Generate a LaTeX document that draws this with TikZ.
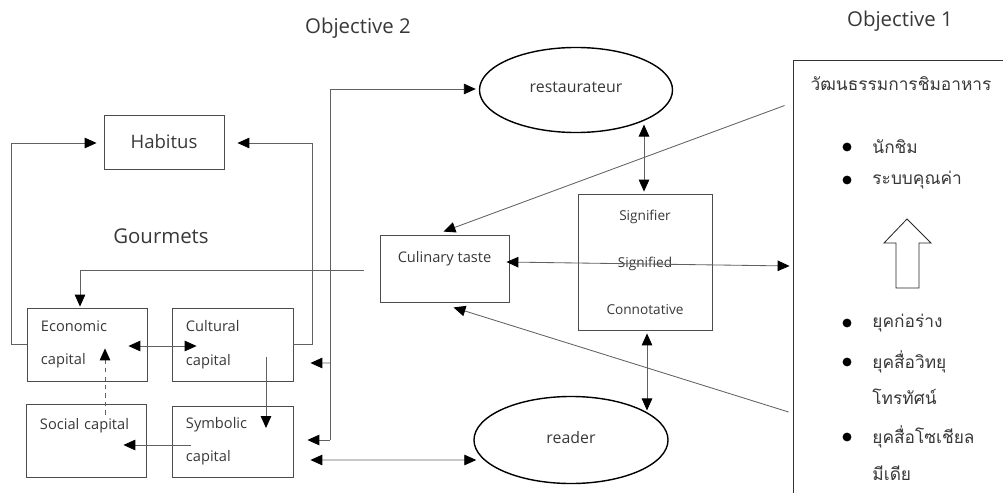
\documentclass[tikz,border=0pt]{standalone}
\usepackage{fontspec}
\setmainfont{Open Sans}
\newfontfamily\thaifont[Script=Thai]{Loma}
\usetikzlibrary{arrows.meta, shapes.geometric, positioning, calc}

\colorlet{ink}{black!78}
\newcommand{\boxfont}{\fontsize{10.4}{24}\selectfont}

\begin{document}
\begin{tikzpicture}[x=0.025cm, y=-0.025cm, line width=0.6pt,
  every node/.style={text=ink},
  box/.style={draw=black!70, rectangle, inner sep=0pt, align=left, font=\boxfont},
  oval/.style={draw=black, ellipse, line width=1pt, inner sep=0pt, font=\fontsize{11.3}{13}\selectfont},
  arr/.style={draw=black!62, -{Triangle[length=8.5pt,width=7.5pt,color=black]}},
  darr/.style={draw=black!62, {Triangle[length=8.5pt,width=7.5pt,color=black]}-{Triangle[length=8.5pt,width=7.5pt,color=black]}},
  title/.style={font=\fontsize{14.5}{16}\selectfont},
  bul/.style={circle, fill=black, inner sep=0pt, minimum size=6.3pt},
  item/.style={anchor=west, inner sep=0pt, font=\thaifont\fontsize{12.3}{14}\selectfont}]

  \useasboundingbox (0,0) rectangle (1003,492);

  % titles
  \node[title] (obj2) at (358,28) {Objective 2};
  \node[title] (obj1t) at (900,21) {Objective 1};
  \node[title] (gourmets) at (161,236) {Gourmets};

  % Bourdieu side
  \node[box, minimum width=3cm, minimum height=1.35cm, align=center, font=\fontsize{13.2}{15}\selectfont] (habitus) at (164,142) {Habitus};
  \node[box, minimum width=3cm, minimum height=1.825cm, text width=2.3cm] (econ) at (87,344.5) {Economic\\capital};
  \node[box, minimum width=3.025cm, minimum height=1.825cm, text width=2.325cm] (cult) at (232.5,344.5) {Cultural\\capital};
  \node[box, minimum width=3cm, minimum height=1.825cm, text width=2.3cm] (social) at (86,440.5) {Social capital\\\mbox{}};
  \node[box, minimum width=3.025cm, minimum height=1.775cm, text width=2.325cm, font=\fontsize{10.4}{23.4}\selectfont] (symb) at (232.5,441.5) {Symbolic\\capital};

  % middle
  \node[box, minimum width=3.225cm, minimum height=1.675cm, align=center, font=\fontsize{10.4}{16.3}\selectfont] (taste) at (444.5,268.5) {Culinary taste\\\mbox{}};
  \node[box, minimum width=3.35cm, minimum height=3.4cm, align=center, font=\fontsize{9.7}{33.5}\selectfont] (sign) at (645,262) {Signifier\\Signified\\Connotative};
  \node[oval, minimum width=4.825cm, minimum height=2.125cm] (resto) at (576,90) {\raisebox{4pt}{restaurateur}};
  \node[oval, minimum width=4.85cm, minimum height=2.175cm] (reader) at (571,440) {\raisebox{3pt}{reader}};

  % objective 1 panel
  \node[draw=black!80, rectangle, inner sep=0pt, minimum width=5.5cm, minimum height=11.05cm] (cult1) at (903,281) {};
  \node[item, anchor=center] (thaihead) at (901,84) {วัฒนธรรมการชิมอาหาร};
  \foreach \y/\txt [count=\i] in {147/นักชิม, 180/ระบบคุณค่า, 323/ยุคก่อร่าง, 362/ยุคสื่อวิทยุ, 437/ยุคสื่อโซเชียล}
  {
    \node[bul] (b\i) at (847,\y) {};
    \node[item] (t\i) at (872,\y) {\txt};
  }
  \node[item] (t4b) at (872,397) {โทรทัศน์};
  \node[item] (t5b) at (872,473) {มีเดีย};
  \draw[black!85] (907,219) -- (931,243) -- (919,243) -- (919,288) -- (896,288)
    -- (896,243) -- (884,243) -- cycle;

  % connectors, left part
  \draw[arr] (econ.west) -- ++(-15,0) |- ($(habitus.west)+(-7,1)$);
  \draw[arr] (cult.east) -- ++(19,0) |- ($(habitus.east)+(13,1)$);
  \draw[darr] ($(econ.east)+(-19,1.5)$) -- ($(cult.west)+(25,1.5)$);
  \draw[arr, dashed] ($(social.north)+(19,11)$) -- ($(econ.south)+(18,-33)$);
  \draw[arr] ($(cult.center)+(33.5,12.5)$) -- ($(symb.center)+(33.5,-13.5)$);
  \draw[arr] ($(symb.west)+(19,3.5)$) -- ($(social.east)+(-23,4.5)$);

  % connectors to the middle
  \coordinate (bustop) at (330,89);
  \coordinate (busbot) at (330,440);
  \draw[arr] ($(taste.west)+(-16,1.5)$) -| ($(econ.north)+(-7,-1)$);
  \draw[arr] (busbot) -- (bustop) -- ($(resto.west)+(-3,-1)$);
  \draw[arr] (busbot) -- ($(symb.east)+(14,-1.5)$);
  \draw[arr] (busbot |- 0,363) -- ($(cult.east)+(17,18.5)$);
  \draw[darr] ($(symb.east)+(17,18.5)$) -- ($(reader.west)+(3,20)$);
  \draw[darr] ($(sign.north)+(-1,-2)$) -- ($(sign.north)+(-1,-69)$);
  \draw[darr] ($(sign.south)+(2,3)$) -- ($(sign.south)+(2,80)$);
  \draw[darr] ($(taste.east)+(-3,-6.5)$) -- ($(cult1.west)+(-3,-15)$);
  \draw[arr] ($(cult1.north west)+(-8,46)$) -- ($(taste.north)+(-1,-3)$);
  \draw[arr] ($(cult1.west)+(-4,131)$) -- ($(taste.south)+(9,5)$);

\end{tikzpicture}
\end{document}
